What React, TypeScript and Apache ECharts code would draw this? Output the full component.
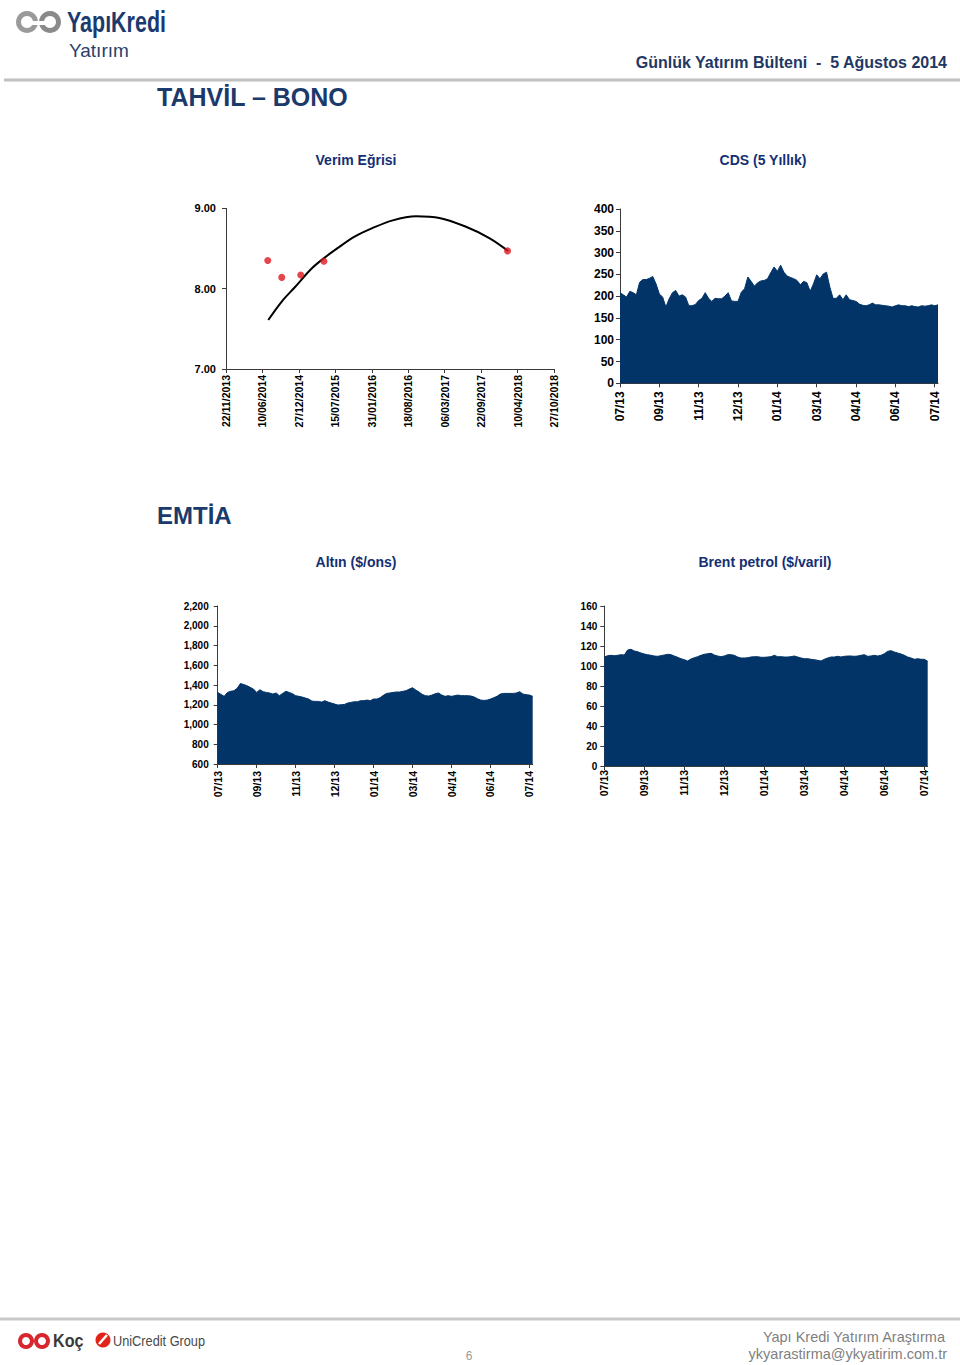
import React, { useEffect, useRef } from "react";
import * as echarts from "echarts";

const FONT = "'Liberation Sans', Arial, Helvetica, sans-serif";
const NAVY_AREA = "#023468";
const TITLE_BLUE = "#1B3A6B";
const SUB_BLUE = "#142F73";

// ---------- Verim Eğrisi (yield curve) ----------
const curveBaseDate = "2013-11-22";
const curveTickStepDays = 200;
const curveSpanDays = 1800;
const curveYTicks = [7, 9, 1]; // min, max, step
const bondMaturities = ["2014-07-09", "2014-09-24", "2015-01-06", "2015-05-13", "2018-02-14"];
const bondYields = [8.35, 8.14, 8.17, 8.34, 8.47];
// trendline: days after 22/11/2013 and yield
const trendDays = [232, 306, 379, 470, 538, 616, 708, 800, 915, 1043, 1171, 1317, 1445, 1548];
const trendYields = [7.61, 7.84, 8.02, 8.25, 8.38, 8.51, 8.65, 8.75, 8.85, 8.9, 8.88, 8.77, 8.63, 8.47];

// ---------- shared month tick labels for the time-series panels ----------
const monthTicks = ["07/13", "09/13", "11/13", "12/13", "01/14", "03/14", "04/14", "06/14", "07/14"];
const pointsPerTick = 12;

// CDS (5 Yıllık)
const cdsValues = [
  208, 203, 198, 211, 208, 203, 232, 238, 238, 241, 245, 228,
  205, 198, 175, 194, 208, 213, 200, 203, 198, 178, 178, 181,
  190, 195, 208, 195, 188, 195, 194, 194, 200, 208, 189, 188,
  188, 209, 217, 244, 234, 223, 231, 235, 236, 240, 254, 267,
  257, 271, 255, 246, 243, 240, 236, 226, 234, 231, 211, 228,
  249, 240, 251, 255, 221, 195, 195, 203, 192, 203, 192, 190,
  188, 182, 179, 178, 180, 184, 180, 180, 179, 178, 177, 175,
  178, 180, 178, 178, 176, 178, 176, 175, 178, 177, 178, 180,
  178, 180,
];

// Altın ($/ons)
const goldValues = [
  1325, 1305, 1285, 1325, 1336, 1342, 1366, 1415, 1405, 1393, 1376, 1359,
  1325, 1352, 1332, 1325, 1319, 1308, 1319, 1292, 1315, 1336, 1325, 1312,
  1292, 1285, 1278, 1268, 1258, 1237, 1234, 1234, 1227, 1241, 1227, 1217,
  1207, 1197, 1200, 1203, 1217, 1224, 1230, 1230, 1241, 1241, 1247, 1241,
  1258, 1258, 1271, 1295, 1315, 1319, 1325, 1329, 1329, 1336, 1342, 1359,
  1372, 1349, 1329, 1305, 1292, 1288, 1298, 1312, 1319, 1298, 1285, 1292,
  1285, 1292, 1298, 1292, 1292, 1292, 1288, 1278, 1261, 1247, 1244, 1247,
  1258, 1271, 1285, 1308, 1315, 1315, 1315, 1315, 1319, 1332, 1308, 1302,
  1298, 1285,
];

// Brent petrol ($/varil)
const brentValues = [
  109, 110.3, 110.7, 110.3, 110.7, 111.3, 111, 116, 116.7, 115, 114.3, 113,
  112, 111.3, 110.7, 110, 109.7, 110.3, 111, 111.7, 111.3, 110, 108.7, 107.3,
  106.3, 105, 107, 108.3, 109.3, 110.7, 111.7, 112.3, 112.7, 111, 110, 109.3,
  110, 111.3, 111.3, 110.7, 109, 108, 108, 108.3, 109, 109.3, 109.3, 108.7,
  108.7, 109, 109.3, 110.7, 109.3, 109.3, 109, 109, 109.3, 110, 109, 108,
  107.3, 107.3, 106.7, 106.3, 105.7, 105, 106.7, 108, 109, 109, 109.7, 109,
  109.7, 110, 110, 109.7, 110, 110.7, 111.3, 109.7, 110, 110.7, 110, 110.7,
  112.3, 114.7, 115.3, 114, 113, 112, 110.7, 109, 108, 106.7, 107.3, 106.7,
  106.7, 104.7,
];

const cdsY = [0, 400, 50];
const goldY = [600, 2200, 200];
const brentY = [0, 160, 20];

const DAY = 86400000;
const baseMs = Date.parse(curveBaseDate);
const toDays = (d: string) => Math.round((Date.parse(d) - baseMs) / DAY);
const pad = (n: number) => (n < 10 ? "0" + n : "" + n);
const dayLabel = (v: number) => {
  const d = new Date(baseMs + v * DAY);
  return `${pad(d.getUTCDate())}/${pad(d.getUTCMonth() + 1)}/${d.getUTCFullYear()}`;
};

const AXIS_COLOR = "#3a3a3a";
const lineStyle = { color: AXIS_COLOR, width: 1 };

function makeTimeX(gridIndex: number, n: number, fontSize: number, margin: number) {
  const idx = monthTicks.map((_, k) => k * pointsPerTick);
  return {
    type: "value",
    gridIndex,
    min: 0,
    max: n - 1,
    splitLine: { show: false },
    axisLine: { show: true, onZero: false, lineStyle },
    axisTick: { show: true, length: 4, lineStyle, customValues: idx },
    axisLabel: {
      customValues: idx,
      rotate: 90,
      margin,
      fontSize,
      fontWeight: "bold",
      color: "#000",
      fontFamily: FONT,
      formatter: (v: number) => monthTicks[Math.round(v / pointsPerTick)] ?? "",
    },
  };
}

function makeY(gridIndex: number, r: number[], fontSize: number, margin: number, fmt: (v: number) => string) {
  return {
    type: "value",
    gridIndex,
    min: r[0],
    max: r[1],
    interval: r[2],
    splitLine: { show: false },
    axisLine: { show: true, lineStyle },
    axisTick: { show: true, length: 4, lineStyle },
    axisLabel: { margin, fontSize, fontWeight: "bold", color: "#000", fontFamily: FONT, formatter: fmt },
  };
}

function areaSeries(xi: number, values: number[]) {
  return {
    type: "line",
    xAxisIndex: xi,
    yAxisIndex: xi,
    data: values.map((v, i) => [i, v]),
    symbol: "none",
    lineStyle: { color: NAVY_AREA, width: 1 },
    areaStyle: { color: NAVY_AREA, opacity: 1, origin: "start" },
    z: 1,
  };
}

function text(x: number, y: number, t: string, style: any, extra: any = {}) {
  return {
    type: "text",
    x,
    y,
    ...extra,
    style: { text: t, fontFamily: FONT, verticalAlign: "middle", ...style },
  };
}

const option: any = {
  animation: false,
  backgroundColor: "#ffffff",
  grid: [
    { left: 226, top: 208.3, width: 328, height: 160.7 },
    { left: 620, top: 209, width: 318, height: 174.3 },
    { left: 217.7, top: 606, width: 315, height: 158 },
    { left: 604.3, top: 606, width: 323.4, height: 160 },
  ],
  xAxis: [
    {
      type: "value",
      gridIndex: 0,
      min: 0,
      max: curveSpanDays,
      interval: curveTickStepDays,
      splitLine: { show: false },
      axisLine: { show: true, onZero: false, lineStyle },
      axisTick: { show: true, length: 4, lineStyle },
      axisLabel: {
        rotate: 90,
        margin: 6,
        fontSize: 10.5,
        fontWeight: "bold",
        color: "#000",
        fontFamily: FONT,
        formatter: dayLabel,
      },
    },
    makeTimeX(1, cdsValues.length, 12, 8),
    makeTimeX(2, goldValues.length, 10.5, 7),
    makeTimeX(3, brentValues.length, 10.5, 4),
  ],
  yAxis: [
    makeY(0, curveYTicks, 11, 10, (v) => v.toFixed(2)),
    makeY(1, cdsY, 12, 6, (v) => String(v)),
    makeY(2, goldY, 10, 9, (v) => v.toLocaleString("en-US")),
    makeY(3, brentY, 10, 7, (v) => String(v)),
  ],
  series: [
    {
      type: "line",
      xAxisIndex: 0,
      yAxisIndex: 0,
      data: trendDays.map((d, i) => [d, trendYields[i]]),
      smooth: 0.35,
      symbol: "none",
      lineStyle: { color: "#000", width: 2 },
      z: 2,
    },
    {
      type: "scatter",
      xAxisIndex: 0,
      yAxisIndex: 0,
      data: bondMaturities.map((d, i) => [toDays(d), bondYields[i]]),
      symbol: "circle",
      symbolSize: 7,
      itemStyle: { color: "#E0161E" },
      z: 3,
    },
    areaSeries(1, cdsValues),
    areaSeries(2, goldValues),
    areaSeries(3, brentValues),
  ],
  graphic: [
    // header logo
    { type: "ring", shape: { cx: 27, cy: 22, r: 11, r0: 6 }, style: { fill: "#9A9A9A" } },
    { type: "ring", shape: { cx: 50, cy: 22, r: 11, r0: 6 }, style: { fill: "#8A8A8A" } },
    { type: "rect", shape: { x: 24, y: 21, width: 28, height: 4 }, style: { fill: "#ffffff" } },
    text(67, 22, "YapıKredi", { fontSize: 29, fontWeight: "bold", fill: "#1C3A6E" }, { scaleX: 0.74 }),
    text(69, 50, "Yatırım", { fontSize: 19, fill: "#2A3F6C" }),
    // header rule
    { type: "line", shape: { x1: 4, y1: 80, x2: 960, y2: 80 }, style: { stroke: "#C0C0C0", lineWidth: 3 } },
    text(947, 62, "Günlük Yatırım Bülteni  -  5 Ağustos 2014", {
      fontSize: 16,
      fontWeight: "bold",
      fill: "#1F3864",
      align: "right",
    }),
    text(157, 97, "TAHVİL – BONO", { fontSize: 25, fontWeight: "bold", fill: TITLE_BLUE }),
    text(356, 160, "Verim Eğrisi", { fontSize: 14, fontWeight: "bold", fill: SUB_BLUE, align: "center" }),
    text(763, 160, "CDS (5 Yıllık)", { fontSize: 14, fontWeight: "bold", fill: SUB_BLUE, align: "center" }),
    text(157, 515, "EMTİA", { fontSize: 24, fontWeight: "bold", fill: TITLE_BLUE }),
    text(356, 562, "Altın ($/ons)", { fontSize: 14, fontWeight: "bold", fill: SUB_BLUE, align: "center" }),
    text(765, 562, "Brent petrol ($/varil)", { fontSize: 14, fontWeight: "bold", fill: SUB_BLUE, align: "center" }),
    // footer
    { type: "line", shape: { x1: 0, y1: 1319, x2: 960, y2: 1319 }, style: { stroke: "#C8C8C8", lineWidth: 3 } },
    { type: "ring", shape: { cx: 26, cy: 1341, r: 8, r0: 4 }, style: { fill: "#D7262E" } },
    { type: "ring", shape: { cx: 42, cy: 1341, r: 8, r0: 4 }, style: { fill: "#D7262E" } },
    text(53, 1341, "Koç", { fontSize: 19, fontWeight: "bold", fill: "#3A3A3A" }, { scaleX: 0.85 }),
    { type: "circle", shape: { cx: 103, cy: 1340, r: 7.5 }, style: { fill: "#E2231A" } },
    { type: "line", shape: { x1: 99, y1: 1344, x2: 107, y2: 1335 }, style: { stroke: "#ffffff", lineWidth: 2.5 } },
    text(113, 1341, "UniCredit Group", { fontSize: 15, fill: "#4A4A4A" }, { scaleX: 0.85 }),
    text(469, 1356, "6", { fontSize: 12, fill: "#9A9A9A", align: "center" }),
    text(945, 1337, "Yapı Kredi Yatırım Araştırma", { fontSize: 14.5, fill: "#7F7F7F", align: "right" }),
    text(947, 1354, "ykyarastirma@ykyatirim.com.tr", { fontSize: 14.5, fill: "#7F7F7F", align: "right" }),
  ],
};

export default function App() {
  const ref = useRef<HTMLDivElement>(null);
  useEffect(() => {
    if (!ref.current) return;
    const chart = echarts.init(ref.current, null, { renderer: "svg", width: 960, height: 1365 });
    chart.setOption(option);
    return () => chart.dispose();
  }, []);
  return (
    <div
      ref={ref}
      style={{ position: "absolute", left: 0, top: 0, width: 960, height: 1365, background: "#fff" }}
    />
  );
}
